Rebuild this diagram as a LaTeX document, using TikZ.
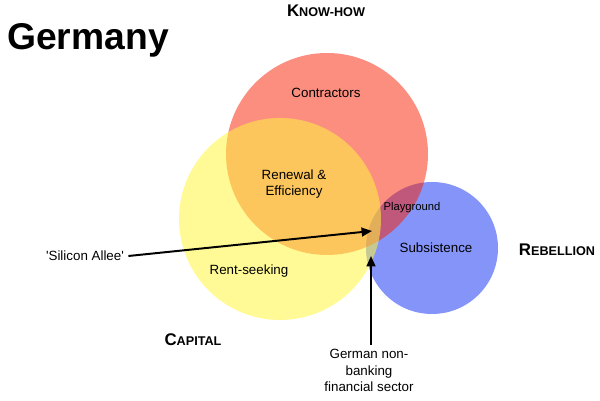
\documentclass[tikz,border=0pt]{standalone}
\usepackage{fontspec}
\setmainfont{Liberation Sans}
\usetikzlibrary{arrows.meta}

\definecolor{hwblue}{RGB}{132,148,248}
\definecolor{hwred}{RGB}{250,30,0}
\definecolor{hwyellow}{RGB}{255,246,64}

\newcommand{\fakesc}[2]{\textbf{{\fontsize{12}{14}\selectfont #1}{\fontsize{9}{11}\selectfont #2}}}

\begin{document}
\begin{tikzpicture}[scale=1,
        venn/.style={circle, inner sep=0pt, draw=none},
        lbl/.style={inner sep=0pt, font=\fontsize{9.5}{11.5}\selectfont, align=center},
        corner/.style={inner sep=0pt},
        pointer/.style={line width=1.4pt, -{Triangle[length=2.6mm, width=2.2mm]}}
      ]
      \useasboundingbox (0, 0) rectangle (15, 10.025);

      % circles
      \node[venn, fill=hwblue, minimum size=3.3cm] at (10.8, 3.825) (rebc) {};
      \node[venn, fill=hwred, fill opacity=.5, minimum size=5.05cm] at (8.175, 6.175) (khc) {};
      \node[venn, fill=hwyellow, fill opacity=.55, minimum size=5.05cm] at (7.0, 4.55) (capc) {};

      % title and corners
      \node[corner, anchor=base west, font=\fontsize{26.5}{30}\selectfont\bfseries] at (0.175, 8.775) (title) {Germany};
      \node[corner] at (8.15, 9.75) (kh) {\fakesc{K}{NOW-HOW}};
      \node[corner] at (4.825, 1.525) (cap) {\fakesc{C}{APITAL}};
      \node[corner] at (13.925, 3.775) (reb) {\fakesc{R}{EBELLION}};

      % regions
      \node[lbl] at (8.15, 7.7) (contr) {Contractors};
      \node[lbl] at (7.35, 5.425) (renew) {Renewal \&\\Efficiency};
      \node[lbl, font=\fontsize{8}{10}\selectfont] at (10.3, 4.825) (play) {Playground};
      \node[lbl] at (10.9, 3.825) (subs) {Subsistence};
      \node[lbl] at (6.225, 3.25) (rent) {Rent-seeking};

      % pointers
      \node[lbl, inner sep=3pt] at (2.125, 3.625) (silicon) {\textquotesingle Silicon Allee\textquotesingle};
      \node[lbl, inner sep=3pt] at (9.225, 0.7625) (gnb) {German non-\\banking\\financial sector};
      \coordinate (sitip) at (9.3, 4.25);
      \coordinate (gntip) at (9.275, 3.625);
      \draw[pointer] (silicon.east) -- (sitip);
      \draw[pointer] (gnb.north -| gntip) -- (gntip);
  \end{tikzpicture}
\end{document}
